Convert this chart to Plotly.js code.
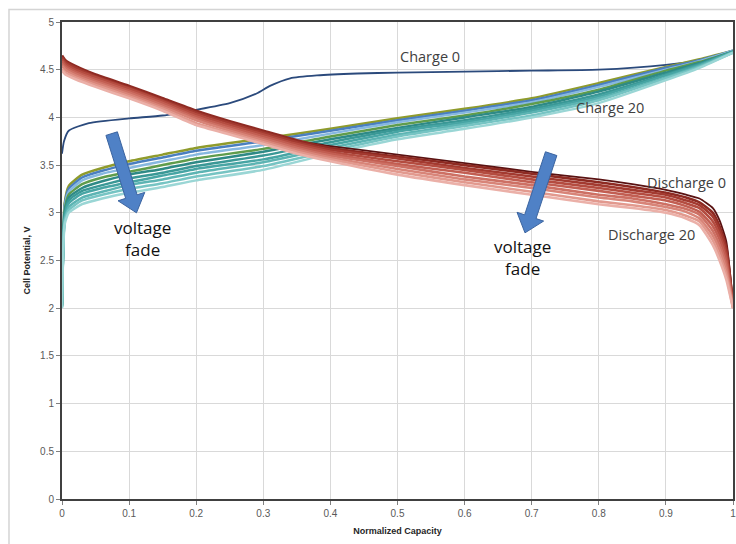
<!DOCTYPE html>
<html>
<head>
<meta charset="utf-8">
<script src="https://cdn.plot.ly/plotly-3.0.1.min.js"></script>
<style>html,body{margin:0;padding:0;background:#fff;}#chart{width:736px;height:544px;}</style>
</head>
<body>
<div id="chart"></div>
<script>
// ---------- data ----------
const charge0Cap = [0, 0.003, 0.01, 0.04, 0.1, 0.15, 0.2, 0.25, 0.29, 0.31, 0.34, 0.38, 0.44, 0.5, 0.6, 0.7, 0.8, 0.9, 0.95, 1.0];
const charge0V   = [3.62, 3.75, 3.86, 3.94, 3.99, 4.02, 4.08, 4.15, 4.25, 4.33, 4.41, 4.44, 4.46, 4.47, 4.48, 4.49, 4.50, 4.55, 4.60, 4.70];

const chargeCap = [0, 0.004, 0.01, 0.03, 0.06, 0.1, 0.15, 0.2, 0.3, 0.4, 0.5, 0.6, 0.7, 0.8, 0.9, 0.95, 1];
const charge2V  = [2.05,3.10,3.28,3.40,3.47,3.54,3.61,3.68,3.78,3.88,3.99,4.09,4.20,4.36,4.53,4.61,4.70];
const charge4V  = [2.05,3.08,3.25,3.37,3.44,3.51,3.58,3.65,3.75,3.86,3.97,4.07,4.18,4.34,4.52,4.60,4.70];
const charge6V  = [2.04,3.06,3.22,3.34,3.41,3.47,3.54,3.61,3.71,3.83,3.95,4.05,4.16,4.32,4.50,4.59,4.70];
const charge8V  = [2.03,3.03,3.19,3.30,3.37,3.43,3.50,3.57,3.67,3.80,3.92,4.02,4.14,4.29,4.49,4.58,4.69];
const charge10V = [2.03,3.00,3.16,3.26,3.33,3.40,3.46,3.53,3.64,3.77,3.89,4.00,4.11,4.27,4.47,4.57,4.69];
const charge12V = [2.02,2.98,3.13,3.23,3.29,3.36,3.42,3.49,3.60,3.74,3.87,3.97,4.09,4.24,4.45,4.56,4.69];
const charge14V = [2.02,2.95,3.10,3.20,3.26,3.32,3.39,3.46,3.56,3.71,3.85,3.95,4.07,4.22,4.44,4.55,4.69];
const charge16V = [2.01,2.93,3.06,3.16,3.22,3.29,3.35,3.42,3.53,3.68,3.82,3.93,4.05,4.20,4.42,4.54,4.68];
const charge18V = [2.01,2.91,3.03,3.13,3.19,3.25,3.31,3.38,3.49,3.65,3.80,3.91,4.02,4.18,4.41,4.53,4.68];
const charge20V = [2.00,2.88,3.00,3.09,3.15,3.21,3.27,3.34,3.45,3.62,3.77,3.88,4.00,4.15,4.39,4.52,4.68];

const dischargeCap = [0, 0.005, 0.02, 0.05, 0.1, 0.15, 0.2, 0.25, 0.3, 0.35, 0.4, 0.5, 0.6, 0.7, 0.8, 0.85, 0.9, 0.93, 0.95, 0.97, 0.98, 0.99, 1.0];
const discharge0V  = [4.63,4.58,4.53,4.44,4.32,4.19,4.06,3.95,3.85,3.75,3.70,3.61,3.52,3.43,3.35,3.30,3.24,3.19,3.15,3.05,2.92,2.70,2.05];
const discharge1V  = [4.65,4.60,4.54,4.45,4.33,4.20,4.07,3.96,3.86,3.76,3.68,3.59,3.50,3.41,3.32,3.27,3.21,3.16,3.11,3.00,2.86,2.64,2.03];
const discharge4V  = [4.63,4.58,4.52,4.43,4.31,4.18,4.05,3.94,3.84,3.74,3.66,3.57,3.47,3.38,3.29,3.24,3.19,3.13,3.08,2.96,2.82,2.60,2.03];
const discharge7V  = [4.61,4.56,4.50,4.42,4.30,4.17,4.03,3.92,3.82,3.72,3.64,3.54,3.45,3.35,3.26,3.21,3.16,3.10,3.05,2.91,2.77,2.55,2.02];
const discharge10V = [4.59,4.54,4.48,4.40,4.28,4.15,4.01,3.90,3.80,3.70,3.62,3.51,3.42,3.32,3.23,3.18,3.13,3.07,3.01,2.86,2.72,2.50,2.02];
const discharge13V = [4.56,4.52,4.46,4.38,4.26,4.13,3.99,3.88,3.78,3.68,3.60,3.49,3.38,3.29,3.19,3.15,3.09,3.04,2.98,2.81,2.66,2.45,2.01];
const discharge16V = [4.54,4.50,4.44,4.36,4.24,4.11,3.97,3.86,3.76,3.66,3.58,3.46,3.35,3.26,3.16,3.12,3.06,3.01,2.94,2.76,2.61,2.40,2.01];
const discharge18V = [4.51,4.47,4.42,4.34,4.22,4.09,3.94,3.84,3.74,3.64,3.56,3.43,3.32,3.22,3.12,3.08,3.03,2.97,2.91,2.71,2.55,2.35,2.00];
const discharge20V = [4.49,4.45,4.40,4.32,4.20,4.07,3.92,3.82,3.72,3.62,3.54,3.40,3.29,3.19,3.09,3.05,3.00,2.94,2.87,2.66,2.50,2.30,2.00];

const chargeNames = ['Charge 2','Charge 4','Charge 6','Charge 8','Charge 10','Charge 12','Charge 14','Charge 16','Charge 18','Charge 20'];
const dischargeNames = ['Discharge 1','Discharge 4','Discharge 7','Discharge 10','Discharge 13','Discharge 16','Discharge 18','Discharge 20'];

const xTickVals = [0,0.1,0.2,0.3,0.4,0.5,0.6,0.7,0.8,0.9,1];
const xTickText = ['0','0.1','0.2','0.3','0.4','0.5','0.6','0.7','0.8','0.9','1'];
const yTickVals = [0,0.5,1,1.5,2,2.5,3,3.5,4,4.5,5];
const yTickText = ['0','0.5','1','1.5','2','2.5','3','3.5','4','4.5','5'];

// ---------- styling ----------
const chargeSeries = [charge2V,charge4V,charge6V,charge8V,charge10V,charge12V,charge14V,charge16V,charge18V,charge20V];
const chargeColors = ['#8f9b2c','#4a7fc0','#86b8e0','#5f9c4c','#2e8a86','#3a9896','#47a5a4','#5cb4b3','#76c4c3','#9ad6d5'];
const dischargeSeries = [discharge1V,discharge4V,discharge7V,discharge10V,discharge13V,discharge16V,discharge18V,discharge20V];
const dischargeColors = ['#8e2a22','#a33a30','#b44c40','#c25e52','#cd7064','#d88478','#e2998e','#ebb0a8'];

const M = {l:62, r:3, t:22, b:45};
const W = 736, H = 544;
const sx = (W - M.l - M.r) / 1.0;   // px per unit capacity
const sy = (H - M.t - M.b) / 5.0;   // px per volt

const traces = [];
traces.push({x: charge0Cap, y: charge0V, mode:'lines', name:'Charge 0',
  line:{color:'#2b4a7c', width:1.8, shape:'spline', smoothing:0.6}, hoverinfo:'skip'});
chargeSeries.forEach((v,i)=>traces.push({x: chargeCap, y: v, mode:'lines', name: chargeNames[i],
  line:{color: chargeColors[i], width:2.5, shape:'spline', smoothing:0.5}, hoverinfo:'skip'}));
traces.push({x: dischargeCap, y: discharge0V, mode:'lines', name:'Discharge 0',
  line:{color:'#5a1212', width:1.8, shape:'spline', smoothing:0.5}, hoverinfo:'skip'});
dischargeSeries.forEach((v,i)=>traces.push({x: dischargeCap, y: v, mode:'lines', name: dischargeNames[i],
  line:{color: dischargeColors[i], width:2.6, shape:'spline', smoothing:0.5}, hoverinfo:'skip'}));

// fat block arrow as a path shape in data coordinates (geometry computed in px)
function arrowPath(tail, tip, shaftW, headW, headL){
  const X0 = tail[0]*sx, Y0 = tail[1]*sy, X1 = tip[0]*sx, Y1 = tip[1]*sy;
  const dx = X1-X0, dy = Y1-Y0, len = Math.hypot(dx,dy);
  const ux = dx/len, uy = dy/len, nx = -uy, ny = ux;
  const bx = X1 - ux*headL, by = Y1 - uy*headL;
  const pts = [
    [X0 + nx*shaftW/2, Y0 + ny*shaftW/2],
    [bx + nx*shaftW/2, by + ny*shaftW/2],
    [bx + nx*headW/2, by + ny*headW/2],
    [X1, Y1],
    [bx - nx*headW/2, by - ny*headW/2],
    [bx - nx*shaftW/2, by - ny*shaftW/2],
    [X0 - nx*shaftW/2, Y0 - ny*shaftW/2]
  ];
  return 'M ' + pts.map(p => (p[0]/sx).toFixed(5) + ',' + (p[1]/sy).toFixed(5)).join(' L ') + ' Z';
}

const arrowStyle = {type:'path', xref:'x', yref:'y', fillcolor:'#4f81c6', line:{color:'#3b64a0', width:1}, layer:'above'};
const shapes = [
  Object.assign({path: arrowPath([0.074,3.83],[0.111,3.00], 12, 28, 17)}, arrowStyle),
  Object.assign({path: arrowPath([0.729,3.62],[0.690,2.79], 12, 28, 17)}, arrowStyle),
  {type:'rect', xref:'paper', yref:'paper', x0:-0.079, x1:1.02, y0:-0.2, y1:1.026,
   line:{color:'#d4d4d4', width:1.5}, fillcolor:'rgba(0,0,0,0)', layer:'below'}
];

const labelFont = {family:'Open Sans, Liberation Sans, sans-serif', size:14.5, color:'#404040'};
const fadeFont = {family:'Open Sans, Liberation Sans, sans-serif', size:17, color:'#111'};
const annotations = [
  {x:0.549, y:4.64, text:'Charge 0', showarrow:false, font:labelFont},
  {x:0.816, y:4.10, text:'Charge 20', showarrow:false, font:labelFont},
  {x:0.931, y:3.32, text:'Discharge 0', showarrow:false, font:labelFont},
  {x:0.879, y:2.77, text:'Discharge 20', showarrow:false, font:labelFont},
  {x:0.120, y:2.73, text:'voltage<br>fade', showarrow:false, font:fadeFont},
  {x:0.687, y:2.53, text:'voltage<br>fade', showarrow:false, font:fadeFont}
];

const tickFont = {family:'Liberation Sans, Arial, sans-serif', size:10, color:'#595959'};
const titleFont = {family:'Liberation Sans, Arial, sans-serif', size:9, color:'#262626', weight:'bold'};
const layout = {
  width:W, height:H, margin:M, showlegend:false,
  paper_bgcolor:'#fff', plot_bgcolor:'#fff',
  xaxis:{range:[0,1], tickvals:xTickVals, ticktext:xTickText, showgrid:true, gridcolor:'#d9d9d9', gridwidth:1,
    zeroline:false, showline:true, linecolor:'#404040', linewidth:2, mirror:true,
    ticks:'outside', ticklen:4, tickcolor:'#808080', tickfont:tickFont, ticklabeloverflow:'allow',
    title:{text:'Normalized Capacity', font:titleFont, standoff:10}},
  yaxis:{range:[0,5], tickvals:yTickVals, ticktext:yTickText, showgrid:true, gridcolor:'#d9d9d9', gridwidth:1,
    zeroline:false, showline:true, linecolor:'#404040', linewidth:2, mirror:true,
    ticks:'outside', ticklen:4, tickcolor:'#808080', tickfont:tickFont,
    title:{text:'Cell Potential, V', font:titleFont, standoff:8}},
  shapes: shapes,
  annotations: annotations
};

Plotly.newPlot('chart', traces, layout, {displayModeBar:false, staticPlot:true});
</script>
</body>
</html>
